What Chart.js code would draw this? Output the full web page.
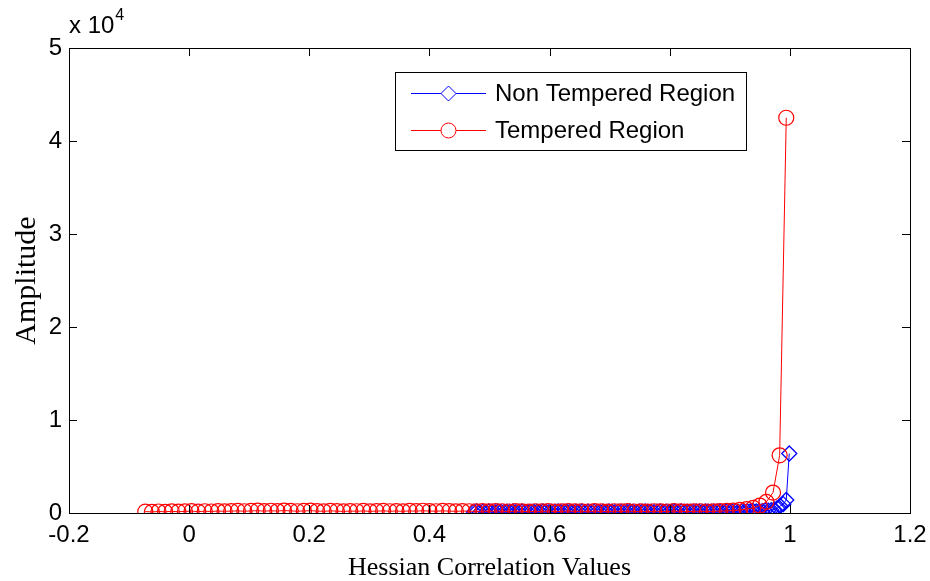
<!DOCTYPE html>
<html>
<head>
<meta charset="utf-8">
<script src="https://cdn.jsdelivr.net/npm/chart.js@4"></script>
<style>
  html, body { margin: 0; padding: 0; background: #fff; }
  #wrap { width: 930px; height: 581px; position: relative; }
</style>
</head>
<body>
<div id="wrap"><canvas id="chart"></canvas></div>
<script>
// Tempered region (red circles)
const redX = [
  -0.073, -0.062, -0.051, -0.040, -0.029, -0.018, -0.007, 0.004, 0.015, 0.026,
  0.037, 0.048, 0.059, 0.070, 0.081, 0.092, 0.103, 0.114, 0.125, 0.136,
  0.147, 0.158, 0.169, 0.180, 0.191, 0.202, 0.213, 0.224, 0.235, 0.246,
  0.257, 0.268, 0.279, 0.290, 0.301, 0.312, 0.323, 0.334, 0.345, 0.356,
  0.367, 0.378, 0.389, 0.400, 0.411, 0.422, 0.433, 0.444, 0.455, 0.466,
  0.477, 0.488, 0.499, 0.510, 0.521, 0.532, 0.543, 0.554, 0.565, 0.576,
  0.587, 0.598, 0.609, 0.620, 0.631, 0.642, 0.653, 0.664, 0.675, 0.686,
  0.697, 0.708, 0.719, 0.730, 0.741, 0.752, 0.763, 0.774, 0.785, 0.796,
  0.807, 0.818, 0.829, 0.840, 0.851, 0.862, 0.873, 0.884, 0.895, 0.906,
  0.917, 0.928, 0.939, 0.950, 0.961, 0.972, 0.983, 0.994
];
const redY = [
  150, 120, 160, 130, 180, 140, 170, 200, 150, 190,
  160, 210, 180, 200, 230, 190, 220, 250, 200, 240,
  210, 260, 230, 190, 220, 250, 210, 180, 230, 200,
  170, 210, 190, 220, 180, 200, 230, 190, 210, 180,
  220, 200, 240, 210, 190, 230, 200, 180, 210, 190,
  170, 200, 180, 210, 190, 160, 200, 180, 150, 190,
  170, 200, 160, 180, 210, 170, 190, 160, 200, 180,
  150, 190, 170, 200, 160, 180, 150, 190, 170, 160,
  200, 180, 150, 170, 190, 160, 180, 200, 220, 260,
  330, 420, 550, 800, 1200, 2200, 6200, 42500
];

// Non tempered region (blue diamonds)
const blueX = [
  0.474, 0.479, 0.484, 0.489, 0.494, 0.499, 0.504, 0.509, 0.514, 0.519,
  0.524, 0.529, 0.534, 0.539, 0.544, 0.549, 0.554, 0.559, 0.564, 0.569,
  0.574, 0.579, 0.584, 0.589, 0.594, 0.599, 0.604, 0.609, 0.614, 0.619,
  0.624, 0.629, 0.634, 0.639, 0.644, 0.649, 0.654, 0.659, 0.664, 0.669,
  0.674, 0.679, 0.684, 0.689, 0.694, 0.699, 0.704, 0.709, 0.714, 0.719,
  0.724, 0.729, 0.734, 0.739, 0.744, 0.749, 0.754, 0.759, 0.764, 0.769,
  0.774, 0.779, 0.784, 0.789, 0.794, 0.799, 0.804, 0.809, 0.814, 0.819,
  0.824, 0.829, 0.834, 0.839, 0.844, 0.849, 0.854, 0.859, 0.864, 0.869,
  0.874, 0.879, 0.884, 0.889, 0.894, 0.899, 0.904, 0.909, 0.914, 0.919,
  0.924, 0.929, 0.934, 0.939, 0.944, 0.949, 0.954, 0.959, 0.964, 0.969,
  0.974, 0.979, 0.984, 0.989, 0.994, 0.999
];
const blueY = [
  120, 180, 90, 150, 110, 170, 130, 100, 160, 120,
  90, 140, 110, 170, 100, 130, 160, 120, 90, 150,
  110, 140, 100, 170, 130, 90, 150, 120, 160, 100,
  130, 110, 150, 90, 140, 120, 160, 100, 130, 110,
  150, 120, 90, 140, 110, 160, 130, 100, 150, 120,
  140, 110, 170, 130, 100, 150, 120, 160, 110, 140,
  100, 130, 170, 120, 150, 110, 140, 180, 120, 160,
  130, 110, 150, 120, 170, 140, 110, 160, 130, 150,
  120, 170, 140, 110, 160, 130, 180, 150, 120, 170,
  140, 190, 160, 210, 180, 230, 200, 260, 240, 310,
  380, 520, 760, 950, 1400, 6400
];

const xTicks = [-0.2, 0, 0.2, 0.4, 0.6, 0.8, 1, 1.2];
const yTicks = [0, 1, 2, 3, 4, 5];
const seriesNames = ['Non Tempered Region', 'Tempered Region'];

const sans = "'Liberation Sans', Arial, sans-serif";
const serif = "'Liberation Serif', 'Times New Roman', serif";

function pairs(xs, ys) {
  return xs.map((x, i) => ({ x: x, y: ys[i] }));
}

// box with inward ticks, exponent label and matlab style legend
const matlabFrame = {
  id: 'matlabFrame',
  afterDraw(chart) {
    const { ctx, chartArea: a, scales: { x, y } } = chart;
    const tl = 8;
    ctx.save();
    ctx.strokeStyle = '#000';
    ctx.lineWidth = 1;
    ctx.strokeRect(Math.round(a.left) + 0.5, Math.round(a.top) + 0.5,
      Math.round(a.right - a.left), Math.round(a.bottom - a.top));
    ctx.beginPath();
    xTicks.forEach(v => {
      const px = Math.round(x.getPixelForValue(v)) + 0.5;
      ctx.moveTo(px, a.bottom); ctx.lineTo(px, a.bottom - tl);
      ctx.moveTo(px, a.top); ctx.lineTo(px, a.top + tl);
    });
    yTicks.forEach(v => {
      const py = Math.round(y.getPixelForValue(v * 10000)) + 0.5;
      ctx.moveTo(a.left, py); ctx.lineTo(a.left + tl, py);
      ctx.moveTo(a.right, py); ctx.lineTo(a.right - tl, py);
    });
    ctx.stroke();

    // exponent
    ctx.fillStyle = '#000';
    ctx.textBaseline = 'alphabetic';
    ctx.textAlign = 'left';
    ctx.font = '24px ' + sans;
    ctx.fillText('x 10', a.left, 33);
    const w = ctx.measureText('x 10').width;
    ctx.font = '16px ' + sans;
    ctx.fillText('4', a.left + w + 1, 20);

    // legend
    const bx = 395.5, by = 72.5, bw = 351, bh = 78;
    ctx.fillStyle = '#fff';
    ctx.fillRect(bx, by, bw, bh);
    ctx.strokeStyle = '#000';
    ctx.strokeRect(bx, by, bw, bh);
    const rows = [93, 130];
    chart.data.datasets.forEach((ds, i) => {
      const ly = rows[i] + 0.5;
      ctx.strokeStyle = ds.borderColor;
      ctx.lineWidth = 1;
      ctx.beginPath();
      ctx.moveTo(411, ly); ctx.lineTo(486, ly);
      ctx.stroke();
      ctx.beginPath();
      if (ds.pointStyle === 'rectRot') {
        ctx.moveTo(448.5 - 7.5, ly); ctx.lineTo(448.5, ly - 7.5);
        ctx.lineTo(448.5 + 7.5, ly); ctx.lineTo(448.5, ly + 7.5);
        ctx.closePath();
      } else {
        ctx.arc(448.5, ly, 7.5, 0, Math.PI * 2);
      }
      ctx.fillStyle = '#fff';
      ctx.fill();
      ctx.stroke();
      ctx.fillStyle = '#000';
      ctx.font = '24px ' + sans;
      ctx.textBaseline = 'middle';
      ctx.fillText(ds.label, 495, rows[i] + 1);
    });
    ctx.restore();
  }
};

const ctx = document.getElementById('chart').getContext('2d');
new Chart(ctx, {
  type: 'scatter',
  data: {
    datasets: [{
      label: seriesNames[0],
      data: pairs(blueX, blueY),
      showLine: true,
      borderColor: '#0000ff',
      borderWidth: 1,
      pointStyle: 'rectRot',
      pointRadius: 7.5,
      pointBorderWidth: 1.3,
      pointBorderColor: '#0000ff',
      pointBackgroundColor: 'rgba(0,0,0,0)',
      order: 2
    }, {
      label: seriesNames[1],
      data: pairs(redX, redY),
      showLine: true,
      borderColor: '#ff0000',
      borderWidth: 1,
      pointStyle: 'circle',
      pointRadius: 7.5,
      pointBorderWidth: 1.2,
      pointBorderColor: '#ff0000',
      pointBackgroundColor: 'rgba(0,0,0,0)',
      order: 1
    }]
  },
  options: {
    responsive: true,
    maintainAspectRatio: false,
    animation: false,
    events: [],
    layout: { padding: { left: 0, right: 20, top: 48, bottom: 0 } },
    plugins: {
      legend: { display: false },
      tooltip: { enabled: false }
    },
    scales: {
      x: {
        type: 'linear',
        min: -0.2,
        max: 1.2,
        afterBuildTicks: s => { s.ticks = xTicks.map(v => ({ value: v })); },
        afterFit: s => { s.height = 68; s.paddingLeft = 0; s.paddingRight = 0; },
        grid: { display: false, drawTicks: false },
        border: { display: false },
        ticks: {
          color: '#000',
          font: { family: sans, size: 24 },
          padding: 8,
          maxRotation: 0,
          callback: v => String(Math.round(v * 10) / 10)
        },
        title: {
          display: true,
          text: 'Hessian Correlation Values',
          color: '#000',
          font: { family: serif, size: 26, lineHeight: 1 },
          padding: { top: 0, bottom: 0 }
        }
      },
      y: {
        min: 0,
        max: 50000,
        afterBuildTicks: s => { s.ticks = yTicks.map(v => ({ value: v * 10000 })); },
        afterFit: s => { s.width = 69; s.paddingTop = 0; s.paddingBottom = 0; },
        grid: { display: false, drawTicks: false },
        border: { display: false },
        ticks: {
          color: '#000',
          font: { family: sans, size: 24 },
          padding: 7,
          callback: v => String(v / 10000)
        },
        title: {
          display: true,
          text: 'Amplitude',
          color: '#000',
          font: { family: serif, size: 30, lineHeight: 1 },
          padding: { top: 12, bottom: 0 }
        }
      }
    }
  },
  plugins: [matlabFrame]
});
</script>
</body>
</html>
